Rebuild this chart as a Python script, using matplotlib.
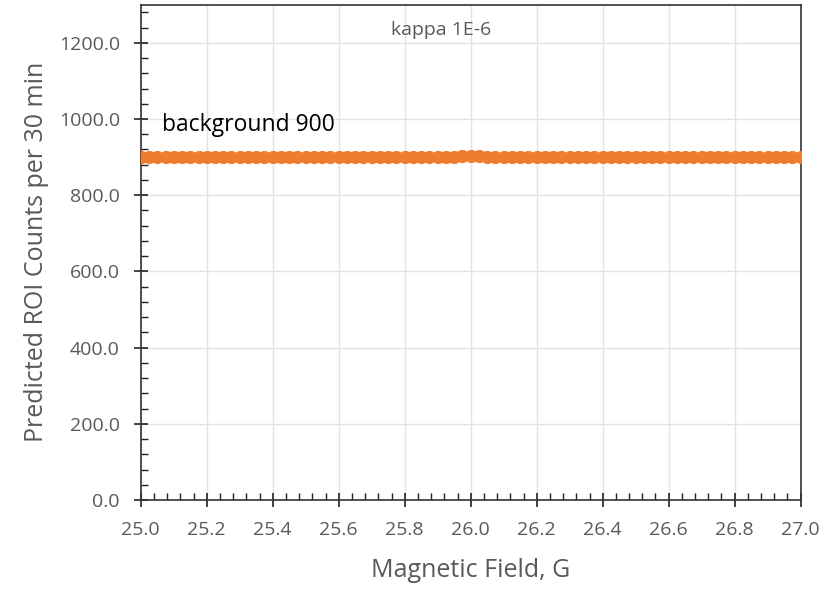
import numpy as np
import matplotlib.pyplot as plt
from matplotlib.ticker import MultipleLocator

plt.rcParams['font.family'] = ['Open Sans', 'DejaVu Sans']

# magnetic field (G), 0.025 G steps
field = np.arange(81) * 0.025 + 25.0
# predicted ROI counts per 30 min
counts = [900.0] * 81
counts[38] = 901.0
counts[39] = 902.5
counts[40] = 903.0
counts[41] = 902.5
counts[42] = 901.0

fig = plt.figure(figsize=(8.28, 5.91), dpi=100)
ax = fig.add_axes([0.170, 0.154, 0.797, 0.838])

ax.plot(field, counts, 'o-', color='#ED7D31', markersize=8.5, linewidth=1.5, zorder=3)

ax.set_xlim(25.0, 27.0)
ax.set_ylim(0, 1300)
ax.xaxis.set_major_locator(MultipleLocator(0.2))
ax.xaxis.set_minor_locator(MultipleLocator(0.04))
ax.yaxis.set_major_locator(MultipleLocator(200))
ax.yaxis.set_minor_locator(MultipleLocator(40))
ax.xaxis.set_major_formatter(lambda v, p: f'{v:.1f}')
ax.yaxis.set_major_formatter(lambda v, p: f'{v:.1f}')

ax.grid(True, which='major', color='#E3E3E3', linewidth=1)
ax.set_axisbelow(True)
ax.tick_params(which='major', direction='inout', length=10, width=1.2, colors='#222222',
               labelcolor='#595959', labelsize=14)
ax.tick_params(axis='x', which='major', pad=10)
ax.tick_params(axis='y', which='major', pad=10)
ax.tick_params(which='minor', direction='in', length=5, width=1, colors='#222222')
for s in ax.spines.values():
    s.set_color('#333333')
    s.set_linewidth(1.2)

ax.set_xlabel('Magnetic Field, G', fontsize=18, color='#595959', labelpad=14)
ax.set_ylabel('Predicted ROI Counts per 30 min', fontsize=18, color='#595959', labelpad=7)

ax.text(0.455, 0.948, 'kappa 1E-6', transform=ax.transAxes, ha='center', va='center',
        fontsize=14, color='#595959')
ax.text(0.032, 0.758, 'background 900', transform=ax.transAxes, ha='left', va='center',
        fontsize=16.5, color='black')

fig.savefig('out.png', dpi=100)
